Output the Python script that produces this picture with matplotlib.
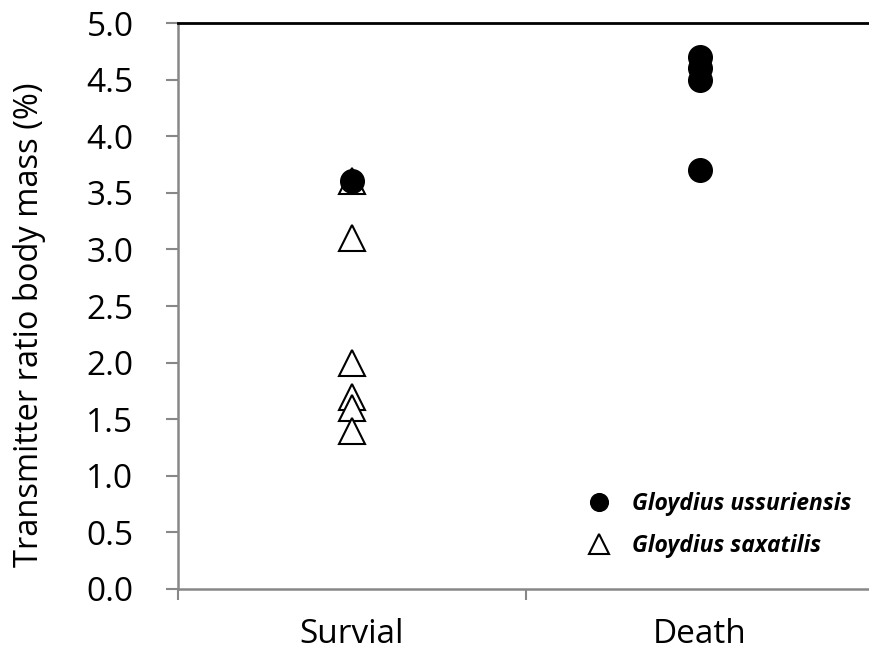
import matplotlib.pyplot as plt
import numpy as np

plt.rcParams['font.family'] = ['Open Sans', 'DejaVu Sans']

categories = ["Survial", "Death"]
# Gloydius ussuriensis (filled circles)
uss_group = [1, 2, 2, 2, 2]
uss_vals = [3.6, 4.7, 4.6, 4.5, 3.7]
# Gloydius saxatilis (open triangles)
sax_group = [1, 1, 1, 1, 1, 1]
sax_vals = [3.6, 3.1, 2.0, 1.7, 1.6, 1.4]

fig = plt.figure(figsize=(8.69, 6.54), dpi=100)
ax = fig.add_axes([0.2048, 0.0994, 0.801, 0.8654])

ax.plot(sax_group, sax_vals, linestyle="none", marker="^", markersize=19,
        markerfacecolor="white", markeredgecolor="black", markeredgewidth=1.5,
        label="Gloydius saxatilis", zorder=3)
ax.plot(uss_group, uss_vals, linestyle="none", marker="o", markersize=17,
        color="black", label="Gloydius ussuriensis", zorder=4)

ax.set_xlim(0.5, 2.5)
ax.set_ylim(0, 5.0)
ax.set_yticks(np.arange(0, 5.01, 0.5))
ax.set_yticklabels([f"{v:.1f}" for v in np.arange(0, 5.01, 0.5)])
ax.set_xticks([1, 2])
ax.set_xticklabels(categories)
ax.set_xticks([0.5, 1.5, 2.5], minor=True)

ax.tick_params(axis="y", direction="out", length=9, width=1.5, color="#888888",
               pad=23, labelsize=24)
ax.tick_params(axis="x", which="major", length=0, pad=21, labelsize=24)
ax.tick_params(axis="x", which="minor", direction="out", length=8, width=1.5,
               color="#888888")

for s in ["left", "bottom"]:
    ax.spines[s].set_color("#888888")
    ax.spines[s].set_linewidth(1.8)
ax.spines["right"].set_visible(False)
ax.spines["top"].set_color("black")
ax.spines["top"].set_linewidth(2)

ax.set_ylabel("Transmitter ratio body mass (%)", fontsize=23.5)
ax.yaxis.set_label_coords(-0.19, 0.467)

h, l = ax.get_legend_handles_labels()
leg = ax.legend(h[::-1], l[::-1], loc="lower left", bbox_to_anchor=(0.543, 0.018),
                frameon=False, handletextpad=0.4, labelspacing=0.8,
                prop={"style": "italic", "weight": "bold", "size": 16.5},
                markerscale=0.75)

fig.savefig("out.png", dpi=100)
